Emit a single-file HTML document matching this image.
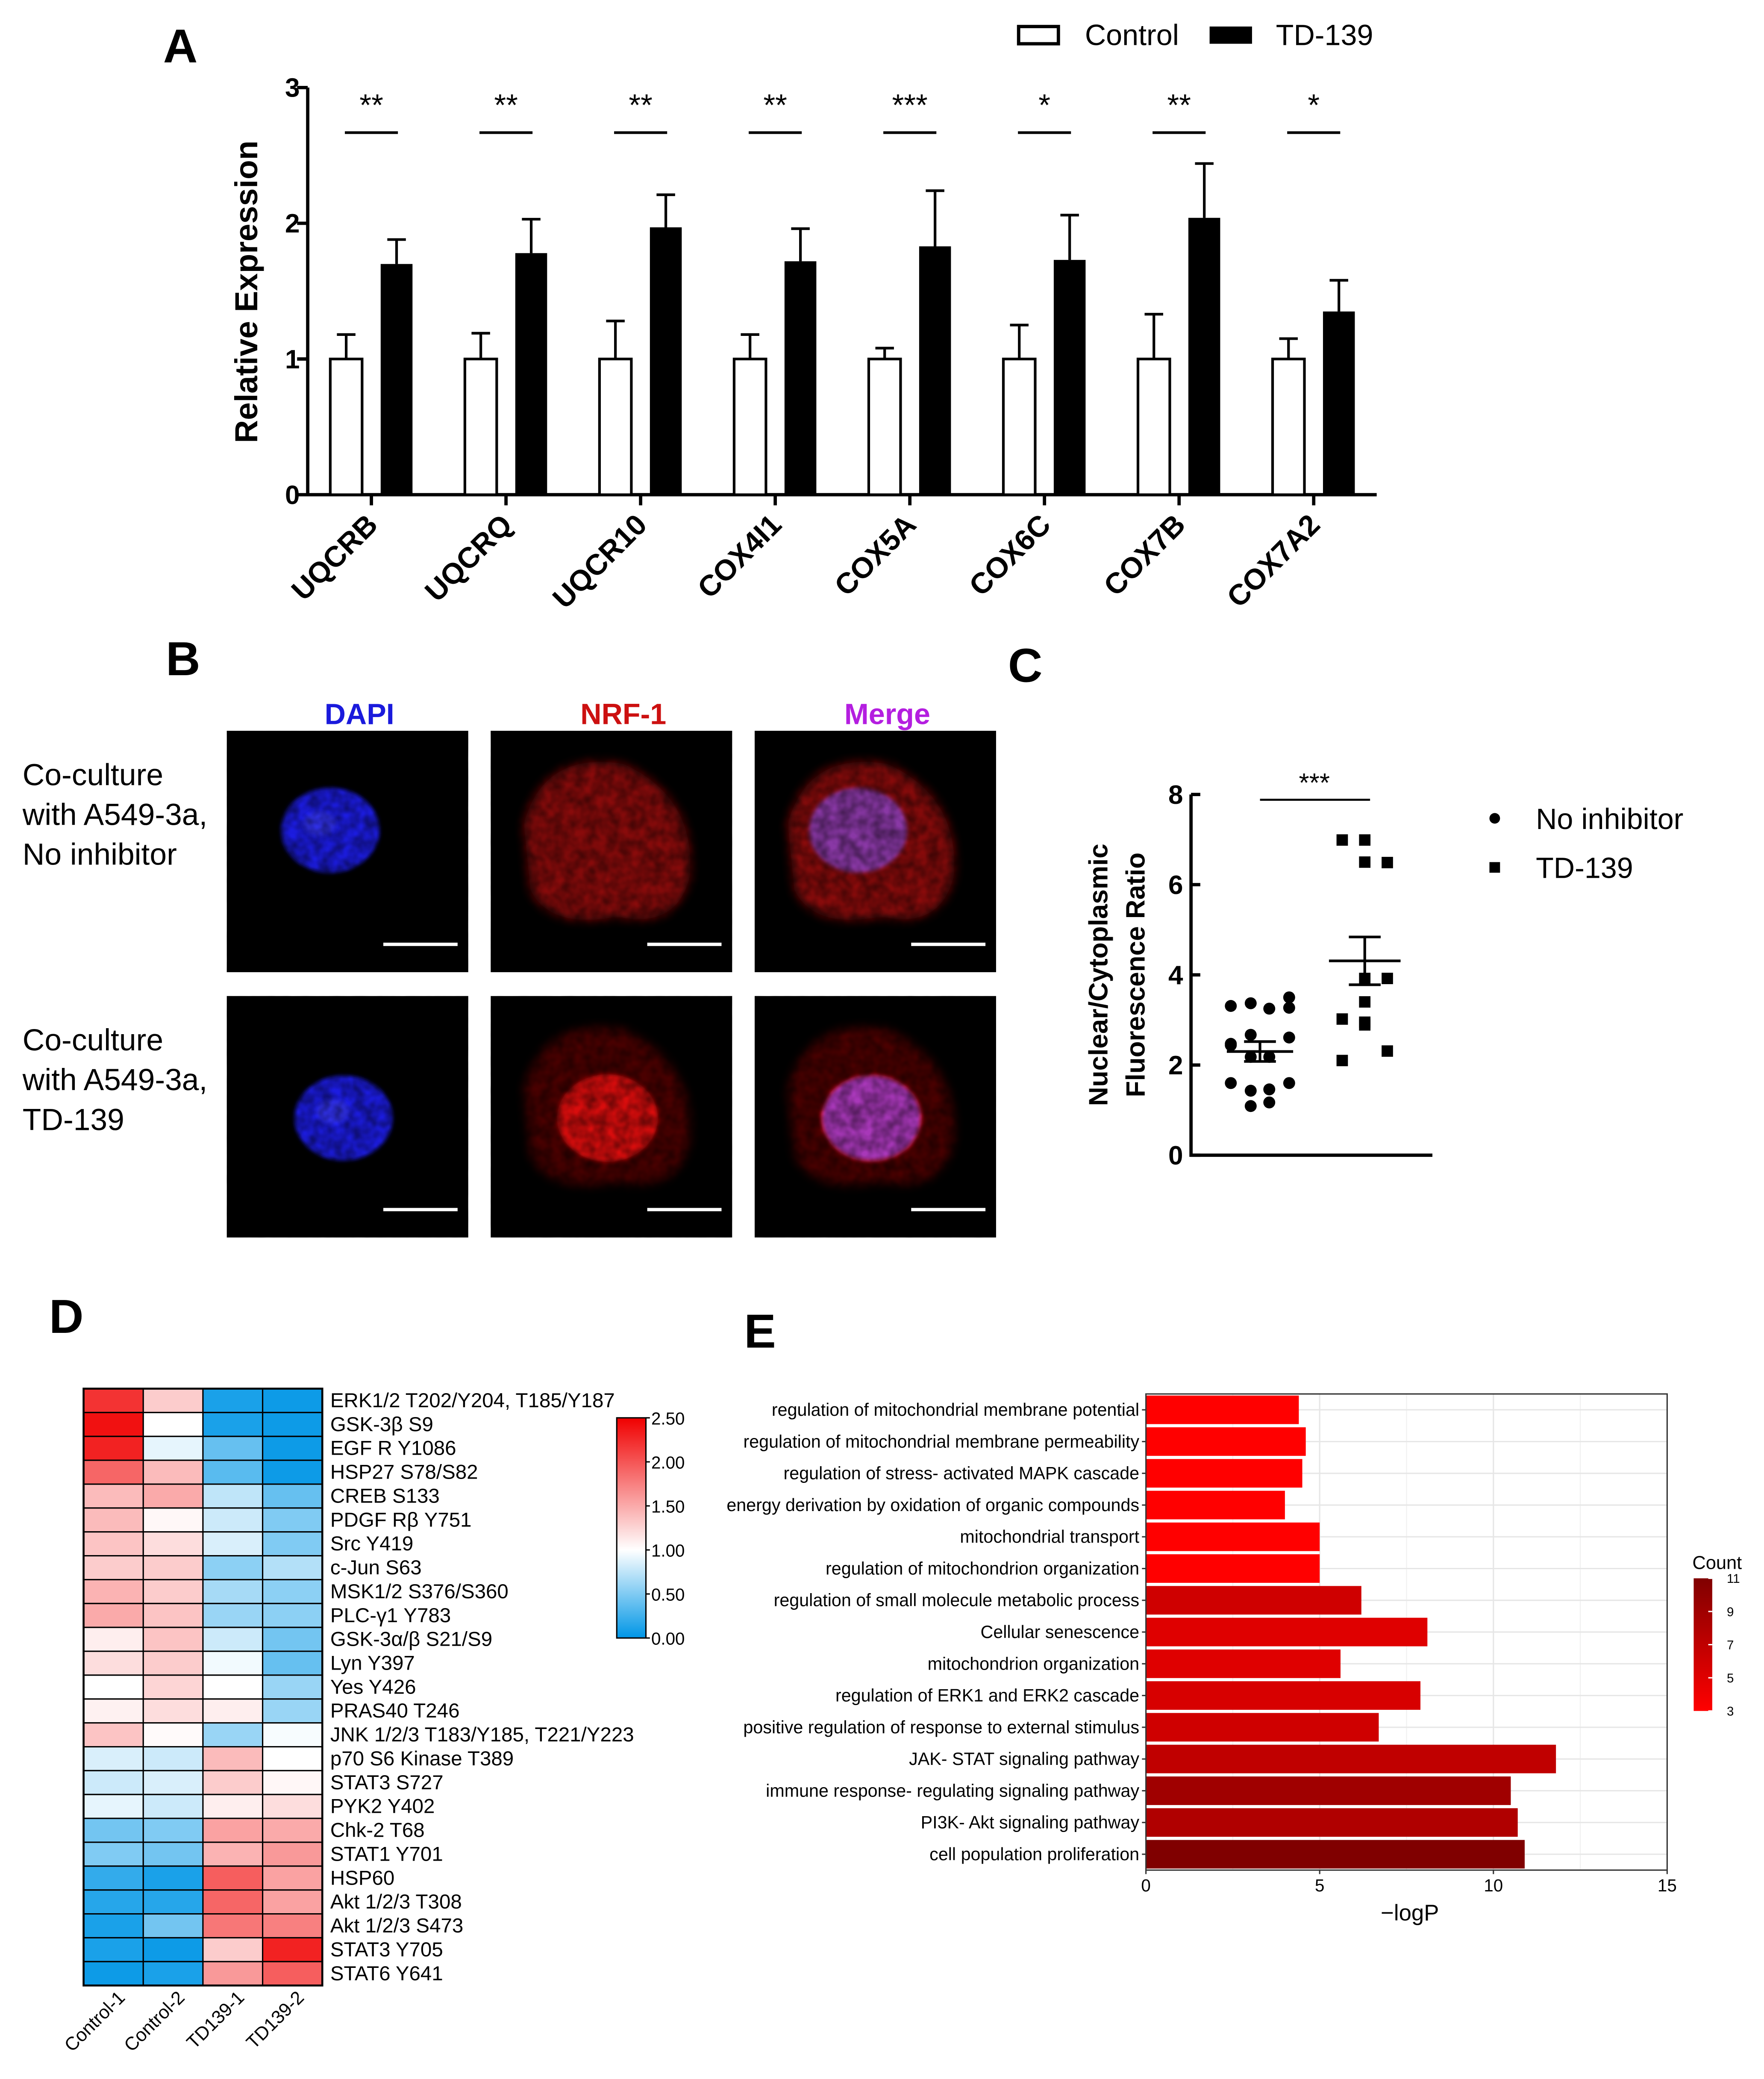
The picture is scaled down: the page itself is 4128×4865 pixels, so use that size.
<!DOCTYPE html>
<html><head><meta charset="utf-8"><style>
html,body{margin:0;padding:0;background:#fff}
svg{display:block}
text{font-family:"Liberation Sans",Arial,sans-serif}
.b{font-weight:bold}
.n{font-family:"Liberation Sans Narrow","Liberation Sans",sans-serif}
</style></head><body>
<svg id="fig" xmlns="http://www.w3.org/2000/svg" width="4128" height="4865" viewBox="0 0 1330 1567.5">
<defs>
<filter id="bl" x="-50%" y="-50%" width="200%" height="200%"><feGaussianBlur stdDeviation="4"/></filter>
<filter id="bl2" x="-50%" y="-50%" width="200%" height="200%"><feGaussianBlur stdDeviation="1.5"/></filter>
<filter id="tex" x="0" y="0" width="100%" height="100%"><feTurbulence type="fractalNoise" baseFrequency="0.12" numOctaves="2" seed="3"/><feColorMatrix type="matrix" values="0 0 0 0 0  0 0 0 0 0  0 0 0 0 0  0 0 0 -1.4 1.1"/></filter>
<linearGradient id="hmcb" x1="0" y1="1" x2="0" y2="0">
<stop offset="0" stop-color="#0096e6"/><stop offset="0.4" stop-color="#ffffff"/><stop offset="1" stop-color="#f00000"/></linearGradient>
<linearGradient id="cntcb" x1="0" y1="1" x2="0" y2="0">
<stop offset="0" stop-color="#ff0000"/><stop offset="1" stop-color="#800000"/></linearGradient>
</defs>
<g id="A"></g>
<g id="B"></g>
<g id="C"></g>
<g id="D"></g>
<g id="E"></g>
</svg>
<script>
const NS="http://www.w3.org/2000/svg";
function mk(p,tag,at,txt){const e=document.createElementNS(NS,tag);for(const k in at)e.setAttribute(k,at[k]);if(txt!==undefined)e.textContent=txt;p.appendChild(e);return e;}

/* ---------- Panel A data ---------- */
const genesA=["UQCRB","UQCRQ","UQCR10","COX4I1","COX5A","COX6C","COX7B","COX7A2"];
const ctrlMean=[1,1,1,1,1,1,1,1];
const ctrlErr=[0.18,0.19,0.28,0.18,0.08,0.25,0.33,0.15];
const tdMean=[1.70,1.78,1.97,1.72,1.83,1.73,2.04,1.35];
const tdErr=[0.18,0.25,0.24,0.24,0.41,0.33,0.40,0.23];
const sigA=["**","**","**","**","***","*","**","*"];
const yTicksA=[0,1,2,3];

/* ---------- Panel C data ---------- */
const noInhVals=[3.31,3.37,3.25,3.5,3.27,2.67,2.47,2.61,2.44,2.18,2.18,1.6,1.6,1.43,1.46,1.09,1.17];
const noInhCol=[0,1,2,3,3,1,0,3,0,1,2,0,3,1,2,1,2];
const tdVals=[6.99,6.99,6.5,6.49,3.92,3.92,3.4,2.95,2.89,3.02,2.31,2.1];
const tdCol=[0,1,1,2,1,2,1,1,1,0,2,0];
const meansC=[2.3,4.31];
const semC=[0.22,0.53];
const yTicksC=[0,2,4,6,8];

/* ---------- Panel D data ---------- */
const hmRows=["ERK1/2 T202/Y204, T185/Y187","GSK-3β S9","EGF R Y1086","HSP27 S78/S82","CREB S133","PDGF Rβ Y751","Src Y419","c-Jun S63","MSK1/2 S376/S360","PLC-γ1 Y783","GSK-3α/β S21/S9","Lyn Y397","Yes Y426","PRAS40 T246","JNK 1/2/3 T183/Y185, T221/Y223","p70 S6 Kinase T389","STAT3 S727","PYK2 Y402","Chk-2 T68","STAT1 Y701","HSP60","Akt 1/2/3 T308","Akt 1/2/3 S473","STAT3 Y705","STAT6 Y641"];
const hmCols=["Control-1","Control-2","TD139-1","TD139-2"];
const hmC1=[2.2,2.4,2.3,1.9,1.4,1.4,1.35,1.3,1.45,1.5,1.1,1.2,1.0,1.08,1.35,0.85,0.8,0.9,0.45,0.5,0.2,0.15,0.1,0.1,0.05];
const hmC2=[1.3,1.0,0.9,1.4,1.5,1.05,1.2,1.3,1.3,1.35,1.35,1.3,1.25,1.2,1.03,0.8,0.85,0.8,0.5,0.45,0.1,0.15,0.45,0.05,0.1];
const hmT1=[0.1,0.1,0.4,0.35,0.75,0.8,0.85,0.55,0.65,0.6,0.8,0.95,1.0,1.1,0.6,1.4,1.3,1.1,1.55,1.45,1.95,1.9,1.8,1.3,1.6];
const hmT2=[0.05,0.05,0.05,0.05,0.4,0.5,0.5,0.7,0.55,0.55,0.45,0.4,0.6,0.6,0.97,1.0,1.05,1.2,1.5,1.6,1.55,1.55,1.75,2.3,1.95];
const hmTicks=[0,0.5,1,1.5,2,2.5];

/* ---------- Panel E data ---------- */
const goTerms=["regulation of mitochondrial membrane potential","regulation of mitochondrial membrane permeability","regulation of stress- activated MAPK cascade","energy derivation by oxidation of organic compounds","mitochondrial transport","regulation of mitochondrion organization","regulation of small molecule metabolic process","Cellular senescence","mitochondrion organization","regulation of ERK1 and ERK2 cascade","positive regulation of response to external stimulus","JAK- STAT signaling pathway","immune response- regulating signaling pathway","PI3K- Akt signaling pathway","cell population proliferation"];
const goLogP=[4.4,4.6,4.5,4.0,5.0,5.0,6.2,8.1,5.6,7.9,6.7,11.8,10.5,10.7,10.9];
const goCount=[3,3,3,3,3,3,6,5,5,5.5,6,7,9,8,11];
const xTicksE=[0,5,10,15];
const cntTicks=[3,5,7,9,11];

/* ================= Panel A ================= */
(function(){
const g=document.getElementById('A');
const x0=232,x1=1038,yb=373,yt=66;
const ys=v=>yb-(yb-yt)*v/3;
const step=101.5;
const xc=i=>x0+48+step*i;
let t=mk(g,'text',{x:123,y:47,'font-size':36,class:'b'},'A');

let r=mk(g,'rect',{x:768,y:20,width:30,height:13,fill:'#fff',stroke:'#000','stroke-width':2.5});

t=mk(g,'text',{x:818,y:34,'font-size':22},'Control');

r=mk(g,'rect',{x:912,y:20,width:32,height:13,fill:'#000'});

t=mk(g,'text',{x:962,y:34,'font-size':22},'TD-139');

let ax=mk(g,'path',{d:`M${x0},${yt}V${yb}H${x1}`,fill:'none',stroke:'#000','stroke-width':2.5});

yTicksA.forEach(v=>{
 mk(g,'line',{x1:x0-8,x2:x0,y1:ys(v),y2:ys(v),stroke:'#000','stroke-width':2.5});
 const tl=mk(g,'text',{x:x0-6,y:ys(v)+7,'font-size':20,'text-anchor':'end',class:'b'},String(v));
 
});
t=mk(g,'text',{x:0,y:0,'font-size':24,class:'b','text-anchor':'middle',transform:`translate(194,220) rotate(-90)`},'Relative Expression');

genesA.forEach((gn,i)=>{
 const c=xc(i);
 mk(g,'line',{x1:c,x2:c,y1:yb,y2:yb+8,stroke:'#000','stroke-width':2.5});
 const lab=mk(g,'text',{x:0,y:0,'font-size':22,class:'b','text-anchor':'end',transform:`translate(${c+6},${yb+24}) rotate(-45)`},gn);
 
 const bw=24;
 const ec=mk(g,'path',{d:`M${c-19},${ys(ctrlMean[i])}V${ys(ctrlMean[i]+ctrlErr[i])}M${c-19-7},${ys(ctrlMean[i]+ctrlErr[i])}H${c-19+7}`,stroke:'#000','stroke-width':2,fill:'none'});
 
 const b1=mk(g,'rect',{x:c-19-bw/2,y:ys(ctrlMean[i]),width:bw,height:yb-ys(ctrlMean[i]),fill:'#fff',stroke:'#000','stroke-width':2});
 
 const et=mk(g,'path',{d:`M${c+19},${ys(tdMean[i])}V${ys(tdMean[i]+tdErr[i])}M${c+19-7},${ys(tdMean[i]+tdErr[i])}H${c+19+7}`,stroke:'#000','stroke-width':2,fill:'none'});
 
 const b2=mk(g,'rect',{x:c+19-bw/2,y:ys(tdMean[i]),width:bw,height:yb-ys(tdMean[i]),fill:'#000'});
 
 const sl=mk(g,'line',{x1:c-20,x2:c+20,y1:100,y2:100,stroke:'#000','stroke-width':2});
 
 const st=mk(g,'text',{x:c,y:87,'font-size':23,'text-anchor':'middle'},sigA[i]);
 
});
})();

/* ================= Panel B ================= */
(function(){
const g=document.getElementById('B');
let t=mk(g,'text',{x:125,y:509,'font-size':36,class:'b'},'B');

const heads=[["DAPI","#1a1adc",271],["NRF-1","#cc1010",470],["Merge","#b41ee0",669]];
heads.forEach(h=>{const e=mk(g,'text',{x:h[2],y:546,'font-size':22,class:'b',fill:h[1],'text-anchor':'middle'},h[0]);
 });
const rowLab=[["Co-culture","with A549-3a,","No inhibitor"],["Co-culture","with A549-3a,","TD-139"]];
const rowY=[551,751];
rowLab.forEach((L,ri)=>{L.forEach((s,k)=>{const e=mk(g,'text',{x:17,y:rowY[ri]+41+k*30,'font-size':23},s);
 });});
const colX=[171,370,569];
rowY.forEach((y,ri)=>{colX.forEach((x,ci)=>{
 const im=mk(g,'g',{});
 
 
 mk(im,'rect',{x:x,y:y,width:182,height:182,fill:'#000'});
 const cx=x+(ri?88:78),cy=y+(ri?92:75);
 if(ci>0){
   mk(im,'path',{d:`M${x+25},${y+70} Q${x+40},${y+15} ${x+100},${y+25} Q${x+155},${y+50} ${x+150},${y+110} Q${x+140},${y+150} ${x+95},${y+140} Q${x+45},${y+150} ${x+30},${y+120} Z`,fill:ri?'#6a0606':'#a01010',filter:'url(#bl)',opacity:ri?0.7:0.85});
   if(ri) mk(im,'ellipse',{cx:cx,cy:cy,rx:38,ry:33,fill:'#d81010',filter:'url(#bl2)'});
 }
 if(ci!==1){
   mk(im,'ellipse',{cx:cx,cy:cy,rx:37,ry:32,fill:ci===0?'#1a1ae0':(ri?'#a040d8':'#8a40c0'),filter:'url(#bl2)',opacity:ci===0?1:0.85});
   if(ci===0){mk(im,'ellipse',{cx:cx-8,cy:cy-5,rx:12,ry:9,fill:'#3535ff',filter:'url(#bl2)'});}
 }
 mk(im,'rect',{x:x,y:y,width:182,height:182,fill:'#000',filter:'url(#tex)',opacity:0.55});
 mk(im,'line',{x1:x+118,x2:x+174,y1:y+161,y2:y+161,stroke:'#fff','stroke-width':2.5});
});});
})();

/* ================= Panel C ================= */
(function(){
const g=document.getElementById('C');
const x0=898,x1=1080,yb=871,yt=599;
const ys=v=>yb-(yb-yt)*v/8;
const gx=[950,1029];
let t=mk(g,'text',{x:760,y:514,'font-size':36,class:'b'},'C');

const ax=mk(g,'path',{d:`M${x0},${yt}V${yb}H${x1}`,fill:'none',stroke:'#000','stroke-width':2.5});

yTicksC.forEach(v=>{mk(g,'line',{x1:x0,x2:x0+7,y1:ys(v),y2:ys(v),stroke:'#000','stroke-width':2.5});
 const e=mk(g,'text',{x:x0-6,y:ys(v)+7,'font-size':20,class:'b','text-anchor':'end'},String(v));
 });
t=mk(g,'text',{x:0,y:0,'font-size':20,class:'b','text-anchor':'middle',transform:'translate(835,735) rotate(-90)'},'Nuclear/Cytoplasmic');

t=mk(g,'text',{x:0,y:0,'font-size':20,class:'b','text-anchor':'middle',transform:'translate(863,735) rotate(-90)'},'Fluorescence Ratio');

const cOff=[-22,-7,7,22],sOff=[-17,0,17];
noInhVals.forEach((v,i)=>{const c=mk(g,'circle',{cx:gx[0]+cOff[noInhCol[i]],cy:ys(v),r:4.5,fill:'#000'});
 });
tdVals.forEach((v,i)=>{const s=mk(g,'rect',{x:gx[1]+sOff[tdCol[i]]-4.3,y:ys(v)-4.3,width:8.6,height:8.6,fill:'#000'});
 });
meansC.forEach((m,i)=>{const c=gx[i],hw=i?27:25;
 const e=mk(g,'path',{d:`M${c-hw},${ys(m)}H${c+hw}M${c},${ys(m-semC[i])}V${ys(m+semC[i])}M${c-12},${ys(m-semC[i])}H${c+12}M${c-12},${ys(m+semC[i])}H${c+12}`,stroke:'#000','stroke-width':2,fill:'none'});
 });
let e=mk(g,'line',{x1:950,x2:1033,y1:603,y2:603,stroke:'#000','stroke-width':1.5});

e=mk(g,'text',{x:991,y:597,'font-size':20,'text-anchor':'middle'},'***');

e=mk(g,'circle',{cx:1127,cy:617,r:4,fill:'#000'});
e=mk(g,'text',{x:1158,y:625,'font-size':22},'No inhibitor');
e=mk(g,'rect',{x:1123,y:650,width:8,height:8,fill:'#000'});
e=mk(g,'text',{x:1158,y:662,'font-size':22},'TD-139');
})();

/* ================= Panel D ================= */
(function(){
const g=document.getElementById('D');
const x0=63,y0=1047,cw=45,rh=18;
function col(v){const b=[0,150,230],w=[255,255,255],r=[240,0,0];let a,c,f;
 if(v<=1){a=b;c=w;f=Math.max(0,v);}else{a=w;c=r;f=Math.min(1,(v-1)/1.5);}
 return `rgb(${a.map((q,k)=>Math.round(q+(c[k]-q)*f)).join(',')})`;}
let t=mk(g,'text',{x:37,y:1005,'font-size':36,class:'b'},'D');

const cols=[hmC1,hmC2,hmT1,hmT2];
hmRows.forEach((rn,ri)=>{
 cols.forEach((arr,ci)=>{const c=mk(g,'rect',{x:x0+ci*cw,y:y0+ri*rh,width:cw,height:rh,fill:col(arr[ri]),stroke:'#000','stroke-width':1});
  });
 const l=mk(g,'text',{x:249,y:y0+ri*rh+14,'font-size':15.3},rn);
 
});
mk(g,'rect',{x:x0,y:y0,width:cw*4,height:rh*hmRows.length,fill:'none',stroke:'#000','stroke-width':1.5});
hmCols.forEach((cn,ci)=>{const l=mk(g,'text',{x:0,y:0,'font-size':14,'text-anchor':'end',transform:`translate(${x0+ci*cw+32},${y0+rh*25+10}) rotate(-45)`},cn);
 });
const cb=mk(g,'rect',{x:465,y:1069,width:22,height:166,fill:'url(#hmcb)',stroke:'#000','stroke-width':1});

hmTicks.forEach(v=>{const y=1235-166*v/2.5;mk(g,'line',{x1:487,x2:490,y1:y,y2:y,stroke:'#000','stroke-width':1});
 const l=mk(g,'text',{x:491,y:y+5,'font-size':13},v.toFixed(2));
 });
})();

/* ================= Panel E ================= */
(function(){
const g=document.getElementById('E');
const x0=864,x1=1257,yt=1051,yb=1410;
const xs=v=>x0+(x1-x0)*v/15;
const band=(yb-yt)/goTerms.length;
function cc(n){const f=(n-3)/8;return `rgb(${Math.round(255-127*f)},0,0)`;}
let t=mk(g,'text',{x:561,y:1016,'font-size':36,class:'b'},'E');

mk(g,'rect',{x:x0,y:yt,width:x1-x0,height:yb-yt,fill:'#fff'});
[2.5,7.5,12.5].forEach(v=>mk(g,'line',{x1:xs(v),x2:xs(v),y1:yt,y2:yb,stroke:'#f2f2f2','stroke-width':0.8}));
[5,10].forEach(v=>mk(g,'line',{x1:xs(v),x2:xs(v),y1:yt,y2:yb,stroke:'#e6e6e6','stroke-width':1}));
goTerms.forEach((s,i)=>{const yc=yt+band*(i+0.5);
 mk(g,'line',{x1:x0,x2:x1,y1:yc,y2:yc,stroke:'#e6e6e6','stroke-width':1});
 const b=mk(g,'rect',{x:x0,y:yc-band*0.45,width:xs(goLogP[i])-x0,height:band*0.9,fill:cc(goCount[i])});
 
 mk(g,'line',{x1:x0-3,x2:x0,y1:yc,y2:yc,stroke:'#333','stroke-width':1});
 const l=mk(g,'text',{x:x0-5,y:yc+4.5,'font-size':13.3,'text-anchor':'end',class:'n'},s);
 });
const fr=mk(g,'rect',{x:x0,y:yt,width:x1-x0,height:yb-yt,fill:'none',stroke:'#333','stroke-width':1});

xTicksE.forEach(v=>{mk(g,'line',{x1:xs(v),x2:xs(v),y1:yb,y2:yb+3,stroke:'#333','stroke-width':1});
 const l=mk(g,'text',{x:xs(v),y:yb+16,'font-size':13,'text-anchor':'middle',class:'n'},String(v));
 });
t=mk(g,'text',{x:1063,y:1448,'font-size':17,'text-anchor':'middle',class:'n'},'−logP');

t=mk(g,'text',{x:1276,y:1183,'font-size':14,class:'n'},'Count');

const cb=mk(g,'rect',{x:1277,y:1190,width:14,height:100,fill:'url(#cntcb)'});

cntTicks.forEach(v=>{const y=1290-100*(v-3)/8;
 mk(g,'line',{x1:1288,x2:1291,y1:y,y2:y,stroke:'#fff','stroke-width':1});
 const l=mk(g,'text',{x:1302,y:y+3.5,'font-size':9.5,class:'n'},String(v));
 });
})();
</script>
</body></html>
